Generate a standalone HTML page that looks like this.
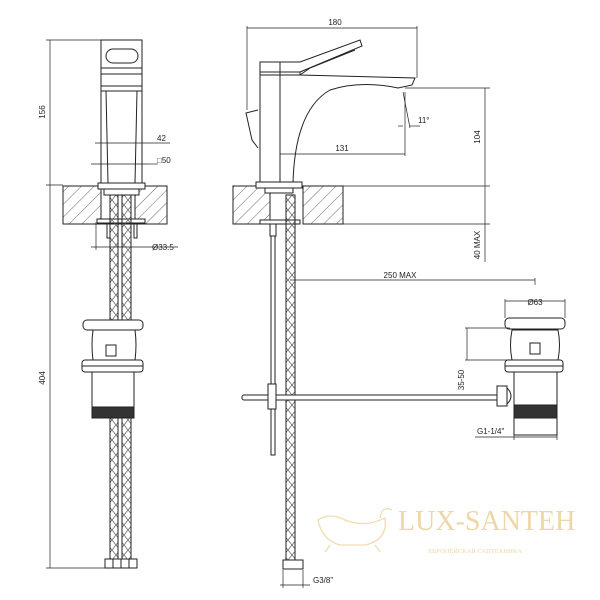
<!DOCTYPE html>
<html><head><meta charset="utf-8"><style>html,body{margin:0;padding:0;background:#fff}svg{display:block}</style></head><body>
<svg width="600" height="600" viewBox="0 0 600 600" xmlns="http://www.w3.org/2000/svg" font-family="Liberation Sans, sans-serif">
<defs>
<pattern id="hatch" width="9" height="9" patternUnits="userSpaceOnUse" patternTransform="rotate(45)">
<line x1="0" y1="0" x2="0" y2="9" stroke="#444" stroke-width="0.8"/></pattern>
<pattern id="braid" width="8" height="10" patternUnits="userSpaceOnUse">
<path d="M0 0L8 10M8 0L0 10" stroke="#555" stroke-width="0.7" fill="none"/></pattern>
</defs>
<g stroke="#222" stroke-width="1" fill="none">
<!-- LEFT VIEW -->
<rect x="63" y="186" width="38" height="38" fill="url(#hatch)"/>
<rect x="135" y="186" width="32" height="38" fill="url(#hatch)"/>
<rect x="63" y="186" width="104" height="38"/>
<rect x="101" y="40" width="41" height="143" fill="#fff"/>
<rect x="106" y="49" width="32" height="14" rx="7"/>
<line x1="101" y1="68" x2="142" y2="68"/><line x1="101" y1="74" x2="142" y2="74"/>
<line x1="101" y1="86" x2="142" y2="86"/><line x1="101" y1="91" x2="142" y2="91"/>
<line x1="106" y1="91" x2="108" y2="183"/><line x1="137" y1="91" x2="135" y2="183"/>
<rect x="98" y="183" width="47" height="6" fill="#fff"/>
<rect x="104" y="189" width="35" height="6" fill="#fff"/>
<rect x="97" y="219" width="48" height="4" fill="#fff"/>
<rect x="107" y="224" width="3" height="14"/><rect x="134" y="224" width="3" height="14"/>
<rect x="110" y="195" width="8" height="365" fill="url(#braid)"/>
<rect x="122" y="195" width="9" height="365" fill="url(#braid)"/>
<rect x="83" y="320" width="60" height="10" rx="4" fill="#fff"/>
<path d="M93 330 Q91 345 93 360 H135 Q137 345 135 330Z" fill="#fff"/>
<rect x="106" y="345" width="10" height="11"/>
<rect x="82" y="360" width="61" height="12" rx="3" fill="#fff"/>
<line x1="82" y1="366" x2="143" y2="366"/>
<rect x="92" y="372" width="42" height="36" fill="#fff"/>
<rect x="92" y="407" width="42" height="11" fill="#333"/>
<rect x="105" y="559" width="32" height="9" fill="#fff"/>
<line x1="113" y1="559" x2="113" y2="568"/><line x1="121" y1="559" x2="121" y2="568"/><line x1="129" y1="559" x2="129" y2="568"/>
<g stroke-width="0.7">
<line x1="50" y1="40" x2="50" y2="568"/>
<line x1="46" y1="40" x2="101" y2="40"/><line x1="46" y1="185" x2="63" y2="185"/><line x1="46" y1="568" x2="105" y2="568"/>
<line x1="95" y1="143" x2="147" y2="143"/><line x1="147" y1="143" x2="170" y2="143"/>
<line x1="91" y1="164" x2="148" y2="164"/><line x1="148" y1="164" x2="158" y2="164"/>
<line x1="91" y1="247" x2="140" y2="247"/><line x1="140" y1="247" x2="178" y2="247"/>
<line x1="96" y1="224" x2="96" y2="250"/>
</g>
<!-- RIGHT VIEW -->
<rect x="233" y="186" width="37" height="38" fill="url(#hatch)"/>
<rect x="303" y="186" width="40" height="38" fill="url(#hatch)"/>
<rect x="233" y="186" width="37" height="38"/><rect x="303" y="186" width="40" height="38"/>
<path d="M260 183 V62 H300 L360 40 L362 46 L300 72 L300 75 L415 78 L412 85 L398 88 Q360 80 330 90 Q295 110 293 183Z" fill="#fff"/>
<line x1="260" y1="72" x2="300" y2="72"/><line x1="260" y1="75" x2="300" y2="75"/>
<line x1="280" y1="62" x2="280" y2="183"/>
<path d="M300 75 L310 68 L355 50"/>
<path d="M258 110 L246 113 L252 140 L258 148"/>
<rect x="256" y="182" width="46" height="6" fill="#fff"/>
<rect x="265" y="188" width="28" height="5" fill="#fff"/>
<rect x="260" y="220" width="40" height="4" fill="#fff"/>
<rect x="271" y="224" width="4" height="231" fill="#fff"/>
<rect x="270" y="224" width="6" height="12" fill="#fff"/>
<rect x="286" y="195" width="9" height="365" fill="url(#braid)"/>
<rect x="283" y="560" width="20" height="9" fill="#fff"/>
<rect x="242" y="395" width="260" height="5" rx="2" fill="#fff"/>
<rect x="268" y="384" width="8" height="25" fill="#fff"/>
<rect x="497" y="386" width="10" height="20" fill="#fff"/>
<path d="M507 388 Q515 396 507 404"/>
<rect x="505" y="318" width="60" height="11" rx="4" fill="#fff"/>
<path d="M512 330 Q509 345 512 360 H558 Q561 345 558 330Z" fill="#fff"/>
<rect x="530" y="343" width="10" height="11"/>
<rect x="505" y="360" width="58" height="12" rx="3" fill="#fff"/>
<line x1="505" y1="366" x2="563" y2="366"/>
<rect x="514" y="372" width="43" height="63" fill="#fff"/>
<rect x="514" y="405" width="43" height="13" fill="#333"/>
<g stroke-width="0.7">
<line x1="247" y1="28" x2="417" y2="28"/><line x1="247" y1="26" x2="247" y2="110"/><line x1="417" y1="26" x2="417" y2="78"/>
<line x1="485" y1="88" x2="485" y2="262"/>
<line x1="405" y1="88" x2="490" y2="88"/><line x1="343" y1="186" x2="490" y2="186"/><line x1="343" y1="224" x2="490" y2="224"/>
<line x1="280" y1="154" x2="405" y2="154"/><line x1="405" y1="92" x2="405" y2="156"/>
<line x1="403" y1="92" x2="410" y2="128"/><line x1="398" y1="126" x2="403" y2="126"/><line x1="410" y1="126" x2="420" y2="126"/>
<line x1="290" y1="280" x2="535" y2="280"/><line x1="535" y1="278" x2="535" y2="285"/>
<line x1="505" y1="301" x2="565" y2="301"/><line x1="505" y1="299" x2="505" y2="318"/><line x1="565" y1="299" x2="565" y2="318"/>
<line x1="467" y1="328" x2="467" y2="360"/><line x1="465" y1="328" x2="510" y2="328"/><line x1="465" y1="360" x2="510" y2="360"/>
<line x1="475" y1="437" x2="557" y2="437"/><line x1="557" y1="420" x2="557" y2="440"/><line x1="514" y1="420" x2="514" y2="440"/>
<line x1="280" y1="585" x2="310" y2="585"/><line x1="283" y1="570" x2="283" y2="588"/><line x1="303" y1="570" x2="303" y2="588"/>
</g>
</g>
<g font-size="8" fill="#222">
<text x="45" y="112" transform="rotate(-90 45 112)" text-anchor="middle">156</text>
<text x="45" y="378" transform="rotate(-90 45 378)" text-anchor="middle">404</text>
<text x="157" y="141">42</text>
<text x="157" y="163">□50</text>
<text x="152" y="250">Ø33.5</text>
<text x="335" y="25" text-anchor="middle">180</text>
<text x="342" y="151" text-anchor="middle">131</text>
<text x="418" y="123">11°</text>
<text x="480" y="137" transform="rotate(-90 480 137)" text-anchor="middle">104</text>
<text x="480" y="245" transform="rotate(-90 480 245)" text-anchor="middle">40 MAX</text>
<text x="400" y="278" text-anchor="middle">250 MAX</text>
<text x="535" y="305" text-anchor="middle">Ø63</text>
<text x="464" y="380" transform="rotate(-90 464 380)" text-anchor="middle">35-50</text>
<text x="477" y="434">G1-1/4"</text>
<text x="313" y="583">G3/8"</text>
</g>
<g fill="#eed6a6" stroke="none" font-family="Liberation Serif, serif">
<text x="398" y="530" font-size="28">LUX-SANTEH</text>
<text x="428" y="553" font-size="6.5">ЕВРОПЕЙСКАЯ САНТЕХНИКА</text>
</g>
<path d="M318 520 Q330 512 345 520 Q365 528 385 518 Q388 540 365 545 L340 545 Q322 540 318 520Z M330 545 L325 552 M375 545 L380 552 M380 518 Q382 505 392 510" fill="none" stroke="#f0dcb0" stroke-width="1.3"/>
</svg>
</body></html>
